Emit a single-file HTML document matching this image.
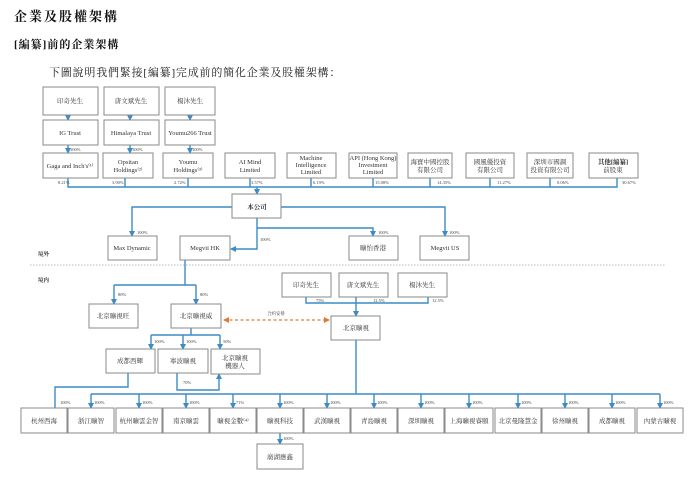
<!DOCTYPE html>
<html><head><meta charset="utf-8"><style>
body{margin:0;background:#fff;}
svg{display:block;font-family:"Liberation Serif","Noto Serif CJK SC","Noto Sans CJK TC",serif;}
.b{fill:#fff;stroke:#8a8a8a;stroke-width:1}
.l{fill:none;stroke:#3b8cc4;stroke-width:1.4}
.t{font-size:6.5px;fill:#333;text-anchor:middle}
.p{font-size:4.5px;fill:#444}
</style></head><body>
<svg width="700" height="477" viewBox="0 0 700 477" xmlns="http://www.w3.org/2000/svg">
<defs><marker id="a" markerWidth="6" markerHeight="6" refX="5" refY="3" orient="auto" markerUnits="userSpaceOnUse"><path d="M0,0L6,3L0,6z" fill="#3b8cc4"/></marker>
<marker id="o" markerWidth="6" markerHeight="6" refX="5" refY="3" orient="auto-start-reverse" markerUnits="userSpaceOnUse"><path d="M0,0L6,3L0,6z" fill="#e07b39"/></marker></defs>
<text x="14" y="21" font-size="13" font-weight="bold" letter-spacing="2" fill="#111">企業及股權架構</text>
<text x="14" y="48" font-size="11" font-weight="bold" letter-spacing="1" fill="#111">[編纂]前的企業架構</text>
<text x="49" y="76" font-size="11" letter-spacing="0.8" fill="#222">下圖說明我們緊接[編纂]完成前的簡化企業及股權架構：</text>

<g class="l">
<path d="M68,115V120" marker-end="url(#a)"/><path d="M130,115V120" marker-end="url(#a)"/><path d="M190,115V120" marker-end="url(#a)"/>
<path d="M68,145V153" marker-end="url(#a)"/><path d="M130,145V153" marker-end="url(#a)"/><path d="M190,145V153" marker-end="url(#a)"/>
<path d="M68,178V187H617V178M125,178V187M188,178V187M250,178V187M311,178V187M373,178V187M430,178V187M490,178V187M550,178V187"/>
<path d="M257,187V194" marker-end="url(#a)"/>
<path d="M232,207H132V236" marker-end="url(#a)"/>
<path d="M281,207H445V236" marker-end="url(#a)"/>
<path d="M257,218V249H231" marker-end="url(#a)"/>
<path d="M257,228H373V236" marker-end="url(#a)"/>
<path d="M185,260V285"/><path d="M114,285H196"/>
<path d="M114,285V304" marker-end="url(#a)"/><path d="M196,285V304" marker-end="url(#a)"/>
<path d="M191,328V335H151M184,335H220"/>
<path d="M151,335V349" marker-end="url(#a)"/><path d="M183,335V349" marker-end="url(#a)"/><path d="M220,335V349" marker-end="url(#a)"/>
<path d="M177,373V390H219V374" marker-end="url(#a)"/>
<path d="M306,297V303H428V297M356,297V303"/><path d="M356,303V316" marker-end="url(#a)"/>
<path d="M356,340V394"/>
<path d="M128,373V387H55V408"/>
<path d="M91,394H660"/>
<path d="M91,394V408" marker-end="url(#a)"/><path d="M139,394V408" marker-end="url(#a)"/><path d="M186,394V408" marker-end="url(#a)"/><path d="M233,394V408" marker-end="url(#a)"/><path d="M280,394V408" marker-end="url(#a)"/><path d="M327,394V408" marker-end="url(#a)"/><path d="M374,394V408" marker-end="url(#a)"/><path d="M421,394V408" marker-end="url(#a)"/><path d="M469,394V408" marker-end="url(#a)"/><path d="M518,394V408" marker-end="url(#a)"/><path d="M565,394V408" marker-end="url(#a)"/><path d="M612,394V408" marker-end="url(#a)"/><path d="M660,394V408" marker-end="url(#a)"/>
<path d="M280,433V444" marker-end="url(#a)"/>
</g>
<path d="M224,320H329" stroke="#e07b39" stroke-width="1.3" stroke-dasharray="3,2.5" fill="none" marker-start="url(#o)" marker-end="url(#o)"/>
<line x1="30" y1="265" x2="666" y2="265" stroke="#9ab" stroke-width="0.8" stroke-dasharray="1.5,1.5"/>
<text x="38" y="256" font-size="5.5" font-weight="bold" fill="#333">境外</text>
<text x="38" y="282" font-size="5.5" font-weight="bold" fill="#333">境内</text>

<g>
<rect class="b" x="43" y="87" width="55" height="28"/><rect class="b" x="104" y="87" width="55" height="28"/><rect class="b" x="165" y="87" width="50" height="28"/>
<rect class="b" x="43" y="120" width="55" height="25"/><rect class="b" x="104" y="120" width="55" height="25"/><rect class="b" x="165" y="120" width="50" height="25"/>
<rect class="b" x="43" y="153" width="55" height="25"/><rect class="b" x="103" y="153" width="50" height="25"/><rect class="b" x="163" y="153" width="50" height="25"/><rect class="b" x="225" y="153" width="50" height="25"/><rect class="b" x="287" y="153" width="49" height="25"/><rect class="b" x="349" y="153" width="48" height="25"/><rect class="b" x="408" y="153" width="44" height="25"/><rect class="b" x="466" y="153" width="48" height="25"/><rect class="b" x="527" y="153" width="46" height="25"/><rect class="b" x="589" y="153" width="49" height="25"/>
<rect class="b" x="232" y="194" width="49" height="24"/>
<rect class="b" x="108" y="236" width="49" height="24"/><rect class="b" x="180" y="236" width="50" height="24"/><rect class="b" x="349" y="236" width="49" height="24"/><rect class="b" x="420" y="236" width="49" height="24"/>
<rect class="b" x="89" y="304" width="49" height="24"/><rect class="b" x="171" y="304" width="50" height="24"/>
<rect class="b" x="106" y="349" width="49" height="24"/><rect class="b" x="158" y="349" width="50" height="24"/><rect class="b" x="211" y="349" width="49" height="25"/>
<rect class="b" x="282" y="273" width="49" height="24"/><rect class="b" x="339" y="273" width="49" height="24"/><rect class="b" x="398" y="273" width="49" height="24"/>
<rect class="b" x="331" y="316" width="49" height="24"/>
<rect class="b" x="21" y="408" width="46" height="25"/><rect class="b" x="68" y="408" width="46" height="25"/><rect class="b" x="116" y="408" width="46" height="25"/><rect class="b" x="163" y="408" width="46" height="25"/><rect class="b" x="210" y="408" width="46" height="25"/><rect class="b" x="257" y="408" width="46" height="25"/><rect class="b" x="304" y="408" width="46" height="25"/><rect class="b" x="351" y="408" width="46" height="25"/><rect class="b" x="398" y="408" width="46" height="25"/><rect class="b" x="445" y="408" width="48" height="25"/><rect class="b" x="495" y="408" width="46" height="25"/><rect class="b" x="542" y="408" width="46" height="25"/><rect class="b" x="589" y="408" width="46" height="25"/><rect class="b" x="637" y="408" width="46" height="25"/>
<rect class="b" x="257" y="444" width="46" height="25"/>
</g>

<g class="t">
<text x="70" y="103">印奇先生</text><text x="131" y="103">唐文斌先生</text><text x="190" y="103">楊沐先生</text>
<text x="70" y="135">IG Trust</text><text x="131" y="135">Himalaya Trust</text><text x="190" y="135">Youmu266 Trust</text>
<text x="70" y="168">Gaga and Inch's⁽¹⁾</text>
<text x="128" y="164">Opsitan</text><text x="128" y="172">Holdings⁽²⁾</text>
<text x="188" y="164">Youmu</text><text x="188" y="172">Holdings⁽³⁾</text>
<text x="250" y="164">AI Mind</text><text x="250" y="172">Limited</text>
<text x="311" y="160">Machine</text><text x="311" y="167">Intelligence</text><text x="311" y="174">Limited</text>
<text x="373" y="160">API (Hong Kong)</text><text x="373" y="167">Investment</text><text x="373" y="174">Limited</text>
<text x="430" y="164">海寶中國控股</text><text x="430" y="172">有限公司</text>
<text x="490" y="164">國風優投資</text><text x="490" y="172">有限公司</text>
<text x="550" y="164">深圳市國調</text><text x="550" y="172">投資有限公司</text>
<text x="613" y="164" font-weight="bold">其他[編纂]</text><text x="613" y="172">前股東</text>
<text x="257" y="209" font-weight="bold">本公司</text>
<text x="132" y="250">Max Dynamic</text><text x="205" y="250">Megvii HK</text><text x="373" y="250">曠怡香港</text><text x="445" y="250">Megvii US</text>
<text x="113" y="318">北京曠視旺</text><text x="196" y="318">北京曠視威</text>
<text x="130" y="363">成都西輝</text><text x="183" y="363">寧波曠視</text><text x="235" y="360">北京曠視</text><text x="235" y="368">機器人</text>
<text x="306" y="287">印奇先生</text><text x="363" y="287">唐文斌先生</text><text x="422" y="287">楊沐先生</text>
<text x="356" y="330">北京曠視</text>
<text x="44" y="423">杭州西海</text><text x="91" y="423">浙江曠智</text><text x="139" y="423">杭州曠雲金智</text><text x="186" y="423">南京曠雲</text><text x="233" y="423">曠視金數⁽⁴⁾</text><text x="280" y="423">曠視科技</text><text x="327" y="423">武漢曠視</text><text x="374" y="423">青島曠視</text><text x="421" y="423">深圳曠視</text><text x="469" y="423">上海曠視睿頤</text><text x="518" y="423">北京曼隆慧金</text><text x="565" y="423">徐州曠視</text><text x="612" y="423">成都曠視</text><text x="660" y="423">內蒙古曠視</text>
<text x="280" y="459">廣湖應鑫</text>
<text x="276" y="315" font-size="4.5">合約安排</text>
</g>
<g class="p">
<text x="58" y="184">8.21%</text><text x="112" y="184">3.90%</text><text x="174" y="184">2.72%</text><text x="251" y="184">3.57%</text><text x="313" y="184">6.19%</text><text x="375" y="184">15.08%</text><text x="437" y="184">14.35%</text><text x="497" y="184">11.27%</text><text x="557" y="184">0.06%</text><text x="622" y="184">30.67%</text>
<text x="70" y="151">100%</text><text x="132" y="151">100%</text><text x="192" y="151">100%</text>
<text x="137" y="234">100%</text><text x="260" y="241">100%</text><text x="378" y="234">100%</text><text x="449" y="234">100%</text>
<text x="118" y="296">80%</text><text x="200" y="296">80%</text>
<text x="154" y="343">100%</text><text x="186" y="343">100%</text><text x="223" y="343">50%</text>
<text x="183" y="384">70%</text>
<text x="316" y="302">75%</text><text x="373" y="302">12.5%</text><text x="432" y="302">12.5%</text>
<text x="60" y="404">100%</text><text x="94" y="404">100%</text><text x="142" y="404">100%</text><text x="189" y="404">100%</text><text x="236" y="404">71%</text><text x="283" y="404">100%</text><text x="330" y="404">100%</text><text x="377" y="404">100%</text><text x="424" y="404">100%</text><text x="472" y="404">100%</text><text x="521" y="404">100%</text><text x="568" y="404">100%</text><text x="615" y="404">100%</text><text x="663" y="404">100%</text>
<text x="283" y="440">100%</text>
</g>
</svg>
</body></html>
